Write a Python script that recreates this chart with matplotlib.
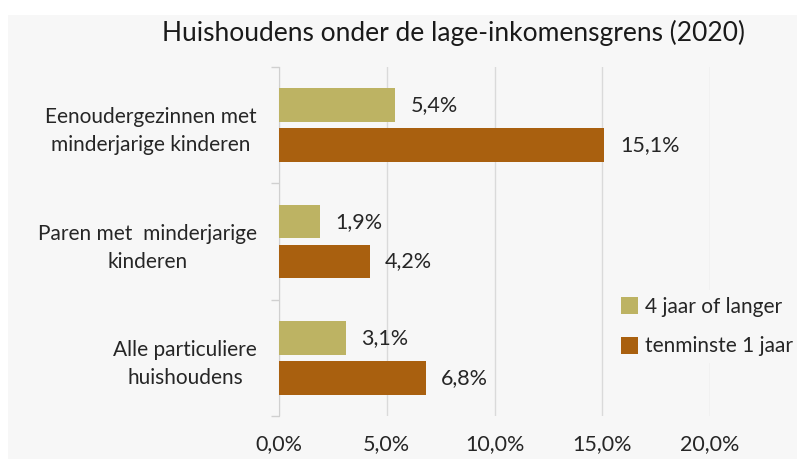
import numpy as np
import matplotlib.pyplot as plt
from matplotlib.ticker import FuncFormatter

plt.rcParams['font.family'] = ['Lato', 'DejaVu Sans']

categories = ['Eenoudergezinnen met\nminderjarige kinderen',
              'Paren met  minderjarige\nkinderen',
              'Alle particuliere\nhuishoudens']
lang = [5.4, 1.9, 3.1]        # 4 jaar of langer
min1 = [15.1, 4.2, 6.8]       # tenminste 1 jaar
series_names = ['4 jaar of langer', 'tenminste 1 jaar']
colors = ['#bdb363', '#a9600f']
bg = '#f7f7f7'
fs = 15.5


def pct(v):
    return f'{v:.1f}%'.replace('.', ',')


fig = plt.figure(figsize=(7.97, 4.59), dpi=100, facecolor='white')
# grey panel behind the chart
fig.patches.append(plt.Rectangle((8 / 797, 0), 1, 1 - 15 / 459, transform=fig.transFigure,
                                 facecolor=bg, edgecolor='none', zorder=-10))

ax = fig.add_axes([279 / 797, 1 - 416 / 459, (710 - 279) / 797, (416 - 67) / 459])
ax.set_facecolor(bg)

y = np.arange(len(categories))
h = 0.29
off = 0.171
b1 = ax.barh(y - off, lang, height=h, color=colors[0], label=series_names[0], zorder=3)
b2 = ax.barh(y + off, min1, height=h, color=colors[1], label=series_names[1], zorder=3)

for bars, vals in ((b1, lang), (b2, min1)):
    for bar, v in zip(bars, vals):
        ax.text(v + 0.72, bar.get_y() + bar.get_height() / 2, pct(v),
                va='center', ha='left', fontsize=fs, color='#262626', zorder=4)

ax.set_xlim(0, 20)
ax.set_ylim(len(categories) - 0.5, -0.5)
ax.set_xticks([0, 5, 10, 15, 20])
ax.xaxis.set_major_formatter(FuncFormatter(lambda v, p: pct(v)))
ax.tick_params(axis='x', length=0, pad=13, labelsize=fs, labelcolor='#262626')
ax.grid(axis='x', color='#dadada', linewidth=1, zorder=0)

ax.set_yticks(y)
ax.set_yticklabels(categories, multialignment='center', linespacing=1.5)
ax.tick_params(axis='y', which='major', length=0, pad=16, labelsize=fs - 0.5,
               labelcolor='#262626')
ax.set_yticks(np.arange(-0.5, len(categories) + 0.5, 1), minor=True)
ax.tick_params(axis='y', which='minor', length=6, color='#d0d0d0', width=1)

for s in ('top', 'right', 'bottom'):
    ax.spines[s].set_visible(False)
ax.spines['left'].set_color('#d0d0d0')

fig.text(453 / 797, 1 - 33 / 459, 'Huishoudens onder de lage-inkomensgrens (2020)',
         ha='center', va='center', fontsize=19, color='#1a1a1a')

leg = fig.legend(loc='upper left', bbox_to_anchor=(604 / 797, 1 - 280 / 459),
                 frameon=True, fontsize=15, handlelength=0.85, handleheight=0.85,
                 handletextpad=0.3, labelspacing=0.95, borderpad=0.3)
leg.get_frame().set_facecolor(bg)
leg.get_frame().set_edgecolor('none')
leg.get_frame().set_alpha(1)
for t in leg.get_texts():
    t.set_color('#262626')

fig.savefig('out.png', dpi=100, facecolor=fig.get_facecolor())
